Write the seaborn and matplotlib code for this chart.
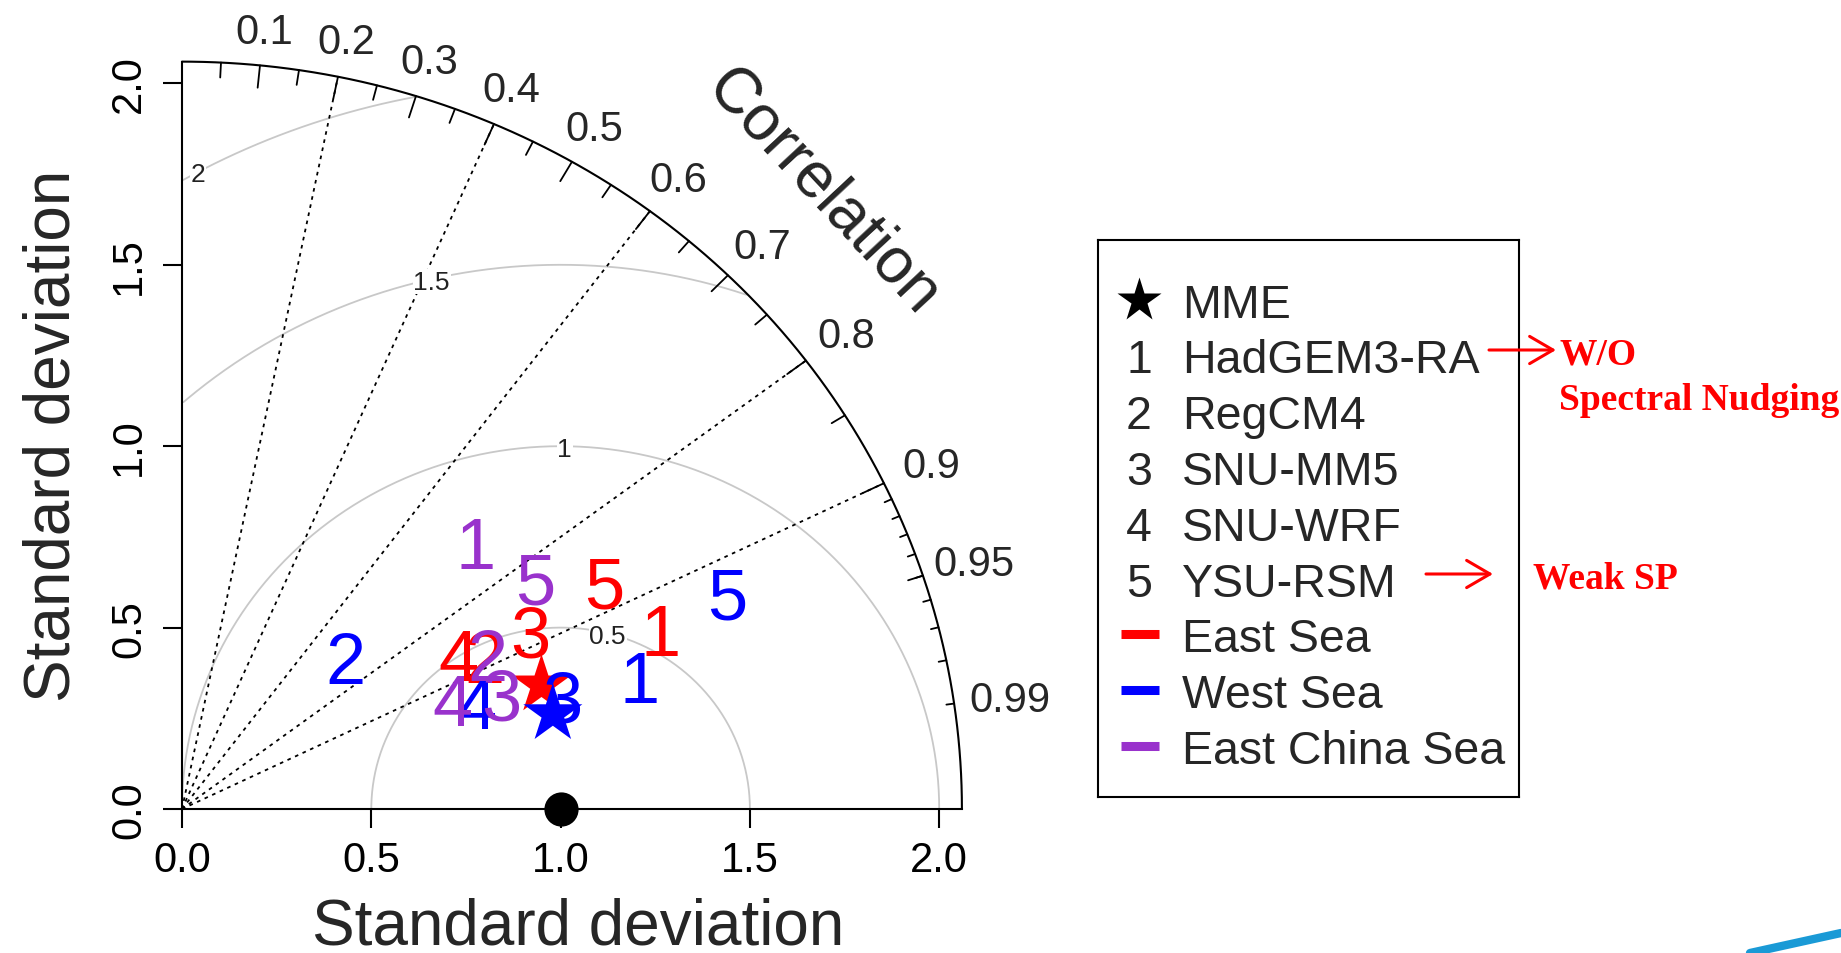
import numpy as np
import pandas as pd
import matplotlib.pyplot as plt
import seaborn as sns
from matplotlib.patches import FancyArrowPatch

sns.set_style("white")
plt.rcParams['font.family'] = ['Liberation Sans', 'DejaVu Sans']

# ---- data (standard deviation, correlation) ----
models = ['HadGEM3-RA', 'RegCM4', 'SNU-MM5', 'SNU-WRF', 'YSU-RSM']
regions = ['East Sea', 'West Sea', 'East China Sea']
region_colors = ['#FF0000', '#0000FF', '#9932CC']

east_sd = [1.357, 0.905, 1.042, 0.845, 1.280]
east_cor = [0.931, 0.884, 0.882, 0.863, 0.872]
west_sd = [1.264, 0.601, 1.053, 0.833, 1.559]
west_cor = [0.957, 0.717, 0.955, 0.935, 0.924]
ecs_sd = [1.068, 0.912, 0.902, 0.775, 1.130]
ecs_cor = [0.725, 0.884, 0.936, 0.920, 0.825]

# MME for East Sea and West Sea
mme_sd = [1.009, 1.014]
mme_cor = [0.941, 0.966]

ref_sd = 1.0
max_ray = 2.06
corr_labels = [0.1, 0.2, 0.3, 0.4, 0.5, 0.6, 0.7, 0.8, 0.9, 0.95, 0.99]
corr_lines = [0.2, 0.4, 0.6, 0.8, 0.9]
gamma = [0.5, 1.0, 1.5, 2.0]
sd_ticks = [0.0, 0.5, 1.0, 1.5, 2.0]


def polar_xy(sd, cor):
    sd = np.asarray(sd, float)
    cor = np.asarray(cor, float)
    return sd * cor, sd * np.sqrt(1 - cor ** 2)


W, H = 1841, 954
fig = plt.figure(figsize=(W / 100, H / 100), dpi=100)
# origin at pixel (182, 810); 378.6 px per unit in x, 362.8 in y
ax = fig.add_axes([182 / W, (H - 810) / H, max_ray * 378.6 / W, max_ray * 362.8 / H])
ax.set_xlim(0, max_ray)
ax.set_ylim(0, max_ray)
ax.set_facecolor('white')
for s in ['top', 'right']:
    ax.spines[s].set_visible(False)
for s in ['left', 'bottom']:
    ax.spines[s].set_color('black')
    ax.spines[s].set_linewidth(1.5)

ax.set_xticks(sd_ticks)
ax.set_xticklabels([f'{v:.1f}' for v in sd_ticks])
ax.set_yticks(sd_ticks)
ax.set_yticklabels([f'{v:.1f}' for v in sd_ticks], rotation=90, va='center')
ax.tick_params(bottom=True, left=True, direction='out', length=13.5, width=1.5,
               labelsize=30, colors='black')
ax.tick_params(axis='x', pad=9)
ax.tick_params(axis='y', pad=10)

# outer arc
t = np.linspace(0, np.pi / 2, 400)
ax.plot(max_ray * np.cos(t), max_ray * np.sin(t), color='black', lw=1.5, clip_on=False)

# correlation ticks
for vals, inner in [(np.arange(0.1, 0.91, 0.1), 0.97),
                    (np.arange(0.05, 0.96, 0.1), 0.98),
                    (np.arange(0.91, 0.991, 0.01), 0.99)]:
    for a in np.arccos(vals):
        ax.plot([max_ray * np.cos(a), inner * max_ray * np.cos(a)],
                [max_ray * np.sin(a), inner * max_ray * np.sin(a)],
                color='black', lw=1.3, clip_on=False)

# correlation labels
for c in corr_labels:
    a = np.arccos(c)
    r = 2.163 + 0.05 * (1 - a / (np.pi / 2))
    ax.text(r * np.cos(a), r * np.sin(a), f'{c:g}', fontsize=30,
            ha='center', va='center_baseline', clip_on=False)

# radial dotted lines
for c in corr_lines:
    ax.plot([0, max_ray * c], [0, max_ray * np.sqrt(1 - c ** 2)], color='black',
            lw=1.3, linestyle=(0, (2, 2.6)), clip_on=False)

# centred RMS difference arcs
tt = np.linspace(0, np.pi, 600)
label_ang = [1.32, 1.56, 1.80, 2.07]
for g, la in zip(gamma, label_ang):
    gx = ref_sd + g * np.cos(tt)
    gy = g * np.sin(tt)
    bad = (gx < 0) | (np.hypot(gx, gy) > max_ray)
    gx = np.where(bad, np.nan, gx)
    gy = np.where(bad, np.nan, gy)
    ax.plot(gx, gy, color='#c8c8c8', lw=1.3, zorder=1)
    ax.text(ref_sd + g * np.cos(la), g * np.sin(la), f'{g:g}', fontsize=19,
            color='#222222', ha='center', va='center_baseline', zorder=2,
            bbox=dict(facecolor='white', edgecolor='none', pad=0.5))

# reference point
sns.scatterplot(x=[ref_sd], y=[0], color='black', s=520, marker='o', ax=ax,
                zorder=6, clip_on=False, legend=False, edgecolor='black')

# model points as numbers, with MME stars
sets = [(east_sd, east_cor), (west_sd, west_cor), (ecs_sd, ecs_cor)]
for k, (sd, cor) in enumerate(sets):
    xs, ys = polar_xy(sd, cor)
    for i, (x, y) in enumerate(zip(xs, ys)):
        ax.text(x, y, str(i + 1), color=region_colors[k], fontsize=52,
                ha='center', va='center_baseline', zorder=5 + k)
    if k < len(mme_sd):
        mx, my = polar_xy([mme_sd[k]], [mme_cor[k]])
        sns.scatterplot(x=mx, y=my, marker='*', s=2000, color=region_colors[k],
                        edgecolor='none', ax=ax, zorder=5 + k, legend=False)

# axis titles
ax.text(0.508, -0.148, 'Standard deviation', transform=ax.transAxes, fontsize=46,
        ha='center', va='center_baseline')
ax.text(-0.1744, 0.5, 'Standard deviation', transform=ax.transAxes, fontsize=46,
        rotation=90, rotation_mode='anchor', ha='center', va='center_baseline')
ax.text(1.706, 1.714, 'Correlation', fontsize=46, rotation=-47,
        rotation_mode='anchor', ha='center', va='center_baseline', clip_on=False)

# legend box
lx0, ly0, lx1, ly1 = 1098, 241, 1519, 798
lax = fig.add_axes([lx0 / W, (H - ly1) / H, (lx1 - lx0) / W, (ly1 - ly0) / H])
lax.set_xlim(lx0, lx1)
lax.set_ylim(ly1, ly0)
lax.set_xticks([])
lax.set_yticks([])
for s in lax.spines.values():
    s.set_visible(True)
    s.set_color('black')
    s.set_linewidth(1.5)

row_y = 300.6 + 55.8 * np.arange(1 + len(models) + len(regions))
sym_x, txt_x = 1139, 1182
lax.plot(sym_x, row_y[0], marker='*', ms=33, color='black', mec='none')
lax.text(txt_x, row_y[0], 'MME', fontsize=33.5, va='center_baseline')
for i, m in enumerate(models):
    lax.text(sym_x, row_y[i + 1], str(i + 1), fontsize=33.5, ha='center', va='center_baseline')
    lax.text(txt_x, row_y[i + 1], m, fontsize=33.5, va='center_baseline')
for k, r in enumerate(regions):
    yy = row_y[1 + len(models) + k]
    lax.plot([1121, 1159], [yy, yy], color=region_colors[k], lw=6.5, solid_capstyle='butt')
    lax.text(txt_x, yy, r, fontsize=33.5, va='center_baseline')

# red annotations (figure level so they sit on top of the legend box)
for x0, x1, y in [(1489, 1556, 351), (1426, 1493, 575)]:
    fig.add_artist(FancyArrowPatch((x0 / W, 1 - y / H), (x1 / W, 1 - y / H),
                                   transform=fig.transFigure,
                                   arrowstyle='->, head_length=0.6, head_width=0.35',
                                   color='red', lw=2.2, mutation_scale=28,
                                   shrinkA=0, shrinkB=0, zorder=5))
serif = ['Liberation Serif', 'DejaVu Serif']
fig.text(1559 / W, 1 - 351 / H, 'W/O', color='red', fontsize=27, fontweight='bold',
         family=serif, va='center_baseline')
fig.text(1559 / W, 1 - 396 / H, 'Spectral Nudging', color='red', fontsize=27,
         fontweight='bold', family=serif, va='center_baseline')
fig.text(1533 / W, 1 - 575 / H, 'Weak SP', color='red', fontsize=27, fontweight='bold',
         family=serif, va='center_baseline')

# corner swoosh of the slide
fig.add_artist(plt.Line2D([1750 / W, 1.0], [0.0, 20 / H], transform=fig.transFigure,
                          color='#1a9ad6', lw=6))

fig.savefig('out.png', dpi=100)
